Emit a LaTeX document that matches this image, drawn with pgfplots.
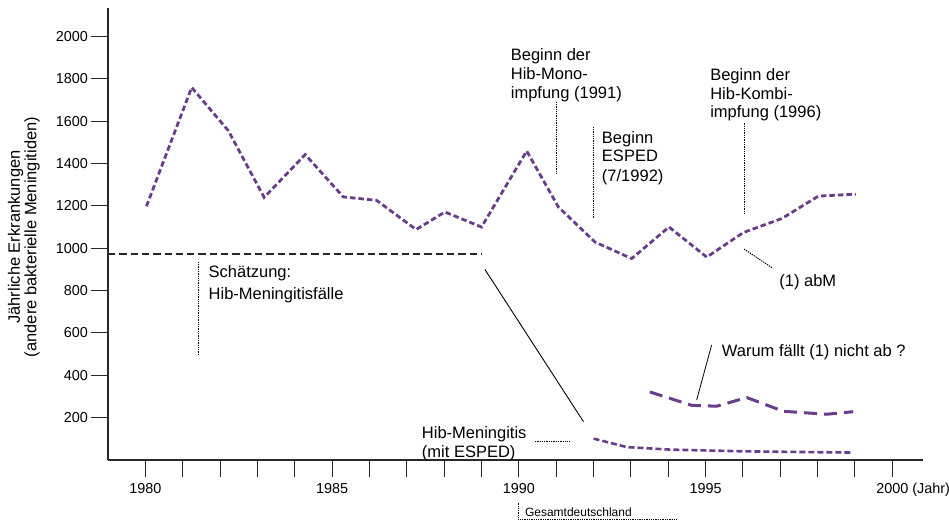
\documentclass[border=0pt]{standalone}
\usepackage{pgfplots}
\pgfplotsset{compat=1.18}
\usepackage{fontspec}
\setmainfont{Liberation Sans}
\definecolor{lila}{RGB}{106,61,140}
\definecolor{axgray}{RGB}{40,40,40}
\newcommand\anno{\fontsize{16.5pt}{19pt}\selectfont}
\newcommand\tickf{\fontsize{14.4pt}{16pt}\selectfont}
\tikzset{dotl/.style={black, line width=1pt, dash pattern=on 1.3pt off 1pt}}

\begin{document}
\begin{tikzpicture}
\useasboundingbox (0,0) rectangle (949pt,-524pt);
\begin{axis}[
  at={(108pt,-460pt)}, anchor=south west,
  scale only axis, width=815pt, height=452pt,
  xmin=1979, xmax=2000.82, ymin=0, ymax=2134,
  axis x line*=bottom, axis y line*=left,
  axis line style={axgray, line width=1.1pt},
  tick align=outside,
  major tick length=17pt, minor tick length=17pt,
  tick style={axgray, line width=1pt},
  xtick={1980,1985,...,2000}, minor xtick={1981,...,1999},
  xticklabels={1980,1985,1990,1995,{2000\rlap{ (Jahr)}}},
  ytick={200,400,...,2000},
  ticklabel style={font=\tickf},
  xticklabel style={yshift=-2.5pt},
  yticklabel style={xshift=0.5pt},
  /pgf/number format/assume math mode=true,
  /pgf/number format/1000 sep={},
  scaled y ticks=false,
  clip=false,
]
% (1) abM
\addplot[lila, line width=2.8pt, dash pattern=on 5.5pt off 3pt] coordinates {
  (1980.03,1198) (1981.24,1759) (1982.22,1555) (1983.18,1240) (1984.28,1442)
  (1985.30,1242) (1986.19,1226) (1987.25,1088) (1988.02,1171) (1989.00,1100)
  (1990.21,1459) (1991.06,1194) (1992.04,1029) (1993.02,951) (1994.02,1100)
  (1995.03,958) (1996.01,1074) (1997.04,1140) (1998.02,1246) (1999.02,1255)};
% Schaetzung Hib-Meningitisfaelle
\addplot[axgray, line width=1.3pt, dash pattern=on 7.3pt off 4pt] coordinates {
  (1979,973) (1988.99,973)};
\addplot[black, line width=0.9pt] coordinates {(1989.09,900) (1991.73,181)};
% Warum faellt (1) nicht ab
\addplot[lila, line width=3pt, dash pattern=on 13pt off 7pt] coordinates {
  (1993.51,321) (1994.63,258) (1995.30,254) (1996.10,295) (1997.08,230)
  (1998.24,216) (1998.95,228)};
% Hib-Meningitis (mit ESPED)
\addplot[lila, line width=2.6pt, dash pattern=on 6pt off 3pt] coordinates {
  (1992.00,101) (1992.89,61) (1994.05,49) (1996.01,41) (1998.95,35)};

% annotations
\node[anchor=base west, font=\anno, inner sep=0pt] at (axis cs:1981.69,861) {Schätzung:};
\node[anchor=base west, font=\anno, inner sep=0pt] at (axis cs:1981.69,759) {Hib-Meningitisfälle};
\draw[dotl] (axis cs:1981.42,936) -- (axis cs:1981.42,496);

\node[anchor=base west, font=\anno, inner sep=0pt] at (axis cs:1989.78,1884) {Beginn der};
\node[anchor=base west, font=\anno, inner sep=0pt] at (axis cs:1989.78,1797) {Hib-Mono-};
\node[anchor=base west, font=\anno, inner sep=0pt] at (axis cs:1989.78,1706) {impfung (1991)};
\draw[dotl] (axis cs:1991.01,1692) -- (axis cs:1991.01,1354);

\node[anchor=base west, font=\anno, inner sep=0pt] at (axis cs:1992.22,1495) {Beginn};
\node[anchor=base west, font=\anno, inner sep=0pt] at (axis cs:1992.22,1407) {ESPED};
\node[anchor=base west, font=\anno, inner sep=0pt] at (axis cs:1992.22,1313) {(7/1992)};
\draw[dotl] (axis cs:1992.01,1574) -- (axis cs:1992.01,1141);

\node[anchor=base west, font=\anno, inner sep=0pt] at (axis cs:1995.12,1794) {Beginn der};
\node[anchor=base west, font=\anno, inner sep=0pt] at (axis cs:1995.12,1703) {Hib-Kombi-};
\node[anchor=base west, font=\anno, inner sep=0pt] at (axis cs:1995.12,1616) {impfung (1996)};
\draw[dotl] (axis cs:1996.05,1590) -- (axis cs:1996.05,1157);

\node[anchor=base west, font=\anno, inner sep=0pt] at (axis cs:1996.97,821) {(1) abM};
\draw[dotl] (axis cs:1996.03,996) -- (axis cs:1996.80,905);

\node[anchor=base west, font=\anno, inner sep=0pt] at (axis cs:1995.43,491) {Warum fällt (1) nicht ab ?};
\draw[black, line width=0.8pt] (axis cs:1995.16,543) -- (axis cs:1994.76,283);

\node[anchor=base west, font=\anno, inner sep=0pt] at (axis cs:1987.40,101) {Hib-Meningitis};
\node[anchor=base west, font=\anno, inner sep=0pt] at (axis cs:1987.40,11) {(mit ESPED)};
\draw[dotl] (axis cs:1990.43,89) -- (axis cs:1991.37,89);

\node[anchor=base west, font=\fontsize{12pt}{14pt}\selectfont, inner sep=0pt] at (axis cs:1990.16,-269) {Gesamtdeutschland};
\draw[dotl] (axis cs:1989.98,-204) -- (axis cs:1989.98,-283) -- (axis cs:1994.23,-283);

\node[rotate=90, align=center, font=\fontsize{16.5pt}{16.5pt}\selectfont, inner sep=0pt]
  at (rel axis cs:-0.1031,0.4934) {Jährliche Erkrankungen\\(andere bakterielle Meningitiden)};
\end{axis}
\end{tikzpicture}
\end{document}
